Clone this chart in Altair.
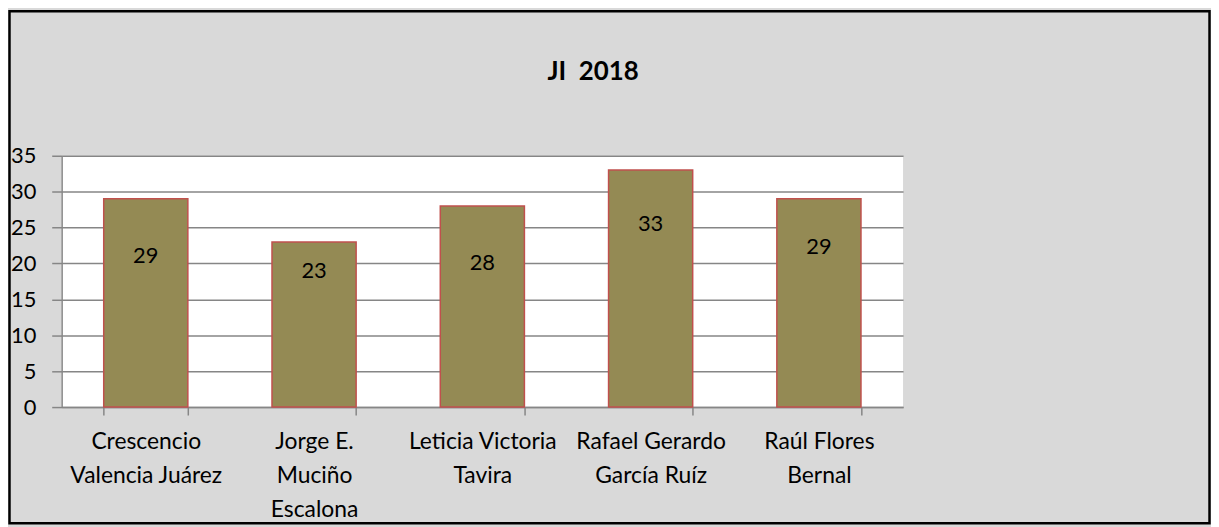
import altair as alt
import pandas as pd

names = ["Crescencio\nValencia Juárez", "Jorge E.\nMuciño\nEscalona", "Leticia Victoria\nTavira",
         "Rafael Gerardo\nGarcía Ruíz", "Raúl Flores\nBernal"]
values = [29, 23, 28, 33, 29]
label_at = [21.1, 19.0, 20.1, 25.5, 22.3]
title_text = ["JI\u00a0\u00a02018"]

df = pd.DataFrame({"name": names, "value": values, "label_at": label_at})

FONT = "Lato"
W, H = 847, 253
TOTAL_W, TOTAL_H = 1211, 519
PAD_L, PAD_T = 54, 147

x_scale = alt.Scale(paddingInner=0.5, paddingOuter=0.25)
x_axis = alt.Axis(labelExpr="split(datum.label, '\\n')", labelAngle=0,
                  labelFont=FONT, labelFontSize=23, labelColor="#000000",
                  labelLineHeight=34, labelLimit=300, labelPadding=16,
                  tickBand="extent", tickSize=8, tickColor="#868686",
                  domainColor="#868686", domainWidth=1.5, tickWidth=1.5,
                  labelBaseline="top", labelOverlap=False, title=None)
y_scale = alt.Scale(domain=[0, 35])
y_axis = alt.Axis(values=[0, 5, 10, 15, 20, 25, 30, 35], labelFont=FONT,
                  labelFontSize=22, labelColor="#000000", tickSize=10,
                  labelPadding=16, tickColor="#868686", tickWidth=1.5,
                  domainColor="#868686", domainWidth=1.5, labelOverlap=False,
                  grid=True, gridColor="#868686", gridWidth=1.5, title=None)

bars = alt.Chart(df).mark_bar(color="#948a54", stroke="#c0504d", strokeWidth=1.5).encode(
    x=alt.X("name:N", sort=names, title=None, scale=x_scale, axis=x_axis),
    y=alt.Y("value:Q", title=None, scale=y_scale, axis=y_axis),
)

labels = alt.Chart(df).mark_text(font=FONT, fontSize=22, color="#000000", baseline="middle").encode(
    x=alt.X("name:N", sort=names, title=None, scale=x_scale, axis=x_axis),
    y=alt.Y("label_at:Q", title=None, scale=y_scale, axis=y_axis),
    text=alt.Text("value:Q"),
)

title_df = pd.DataFrame({"t": title_text})
title = alt.Chart(title_df).mark_text(font=FONT, fontSize=26, fontWeight="bold", color="#000000",
                                      baseline="middle", align="center").encode(
    x=alt.value(535), y=alt.value(-84), text="t:N")

border_df = pd.DataFrame({"k": [0]})
border = alt.Chart(border_df).mark_rect(fill=None, stroke="#000000", strokeWidth=2.5, clip=False).encode(
    x=alt.value(-PAD_L + 1.5), x2=alt.value(TOTAL_W - PAD_L - 1.5),
    y=alt.value(-PAD_T + 1.5), y2=alt.value(TOTAL_H - PAD_T - 2),
)

chart = alt.layer(bars, labels, title, border).properties(
    width=W, height=H,
    autosize=alt.AutoSizeParams(type="none"),
    padding={"left": PAD_L, "top": PAD_T, "right": TOTAL_W - PAD_L - W, "bottom": TOTAL_H - PAD_T - H},
    background="#d9d9d9",
).configure_view(fill="#ffffff", stroke=None)

chart.save("out.html", embed_options={"renderer": "svg", "actions": False})
